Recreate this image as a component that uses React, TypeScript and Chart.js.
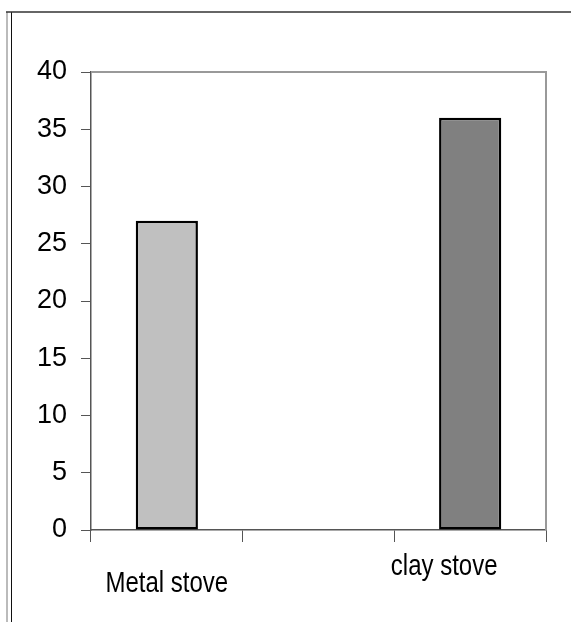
import React, { useEffect, useRef } from "react";
import { Chart, registerables } from "chart.js";

Chart.register(...registerables);

const categories = ["Metal stove", "", "clay stove"];
const values = [27, null, 36];
const barColors = ["#c0c0c0", "#c0c0c0", "#808080"];
const yTicks = [0, 5, 10, 15, 20, 25, 30, 35, 40];
// label offsets (dx, baseline below axis)
const labelDx = [0, 0, -26];
const labelBaseline = [62, 0, 45];

const framePlugin = {
  id: "framePlugin",
  beforeDraw(chart: any) {
    const ctx = chart.ctx;
    ctx.save();
    ctx.fillStyle = "#ffffff";
    ctx.fillRect(0, 0, chart.width, chart.height);
    ctx.strokeStyle = "#bbbbbb";
    ctx.lineWidth = 2;
    ctx.beginPath();
    ctx.moveTo(7, 12);
    ctx.lineTo(7, chart.height);
    ctx.stroke();
    ctx.strokeStyle = "#111111";
    ctx.lineWidth = 1;
    ctx.beginPath();
    ctx.moveTo(11.5, 12);
    ctx.lineTo(11.5, chart.height);
    ctx.stroke();
    ctx.strokeStyle = "#333333";
    ctx.lineWidth = 1.5;
    ctx.beginPath();
    ctx.moveTo(6, 12);
    ctx.lineTo(chart.width, 12);
    ctx.stroke();
    ctx.restore();
  },
  afterDraw(chart: any) {
    const ctx = chart.ctx;
    const a = chart.chartArea;
    ctx.save();
    ctx.strokeStyle = "#999999";
    ctx.lineWidth = 2;
    ctx.beginPath();
    ctx.moveTo(a.left, a.top);
    ctx.lineTo(a.right, a.top);
    ctx.lineTo(a.right, a.bottom);
    ctx.stroke();
    const xs = chart.scales.x;
    ctx.fillStyle = "#000000";
    ctx.font = "24px 'Liberation Sans', Arial, sans-serif";
    ctx.textAlign = "center";
    ctx.textBaseline = "alphabetic";
    categories.forEach((c, i) => {
      if (!c) return;
      const x = xs.getPixelForValue(i) + labelDx[i];
      const y = a.bottom + labelBaseline[i];
      ctx.save();
      ctx.translate(x, y);
      ctx.scale(1, 1.25);
      ctx.fillText(c, 0, 0);
      ctx.restore();
    });
    ctx.restore();
  },
};

export default function App() {
  const ref = useRef<HTMLCanvasElement>(null);
  useEffect(() => {
    if (!ref.current) return;
    const chart = new Chart(ref.current, {
      type: "bar",
      data: {
        labels: categories,
        datasets: [
          {
            data: values as any,
            backgroundColor: barColors,
            borderColor: "#000000",
            borderWidth: 2.5,
            borderSkipped: false,
            barPercentage: 0.41,
            categoryPercentage: 1,
          },
        ],
      },
      options: {
        animation: false,
        responsive: false,
        devicePixelRatio: 1,
        layout: { padding: { top: 72, right: 25, left: 0, bottom: 0 } },
        plugins: { legend: { display: false }, tooltip: { enabled: false } },
        scales: {
          x: {
            offset: true,
            grid: {
              offset: true,
              drawOnChartArea: false,
              drawTicks: true,
              tickLength: 12,
              color: "#555555",
            },
            border: { color: "#555555", width: 1.5 },
            ticks: { display: false },
            afterFit(scale: any) {
              scale.height = 92;
            },
          },
          y: {
            min: 0,
            max: 40,
            afterBuildTicks(scale: any) {
              scale.ticks = yTicks.map((v) => ({ value: v }));
            },
            grid: {
              drawOnChartArea: false,
              drawTicks: true,
              tickLength: 10,
              color: "#555555",
            },
            border: { color: "#555555", width: 1.5 },
            ticks: {
              color: "#000000",
              padding: 14,
              font: { family: "'Liberation Sans', Arial, sans-serif", size: 27 },
            },
            afterFit(scale: any) {
              scale.width = 91;
            },
          },
        },
      },
      plugins: [framePlugin],
    });
    return () => chart.destroy();
  }, []);
  return (
    <div style={{ position: "absolute", left: 0, top: 0, width: 571, height: 622 }}>
      <canvas ref={ref} width={571} height={622} />
    </div>
  );
}
